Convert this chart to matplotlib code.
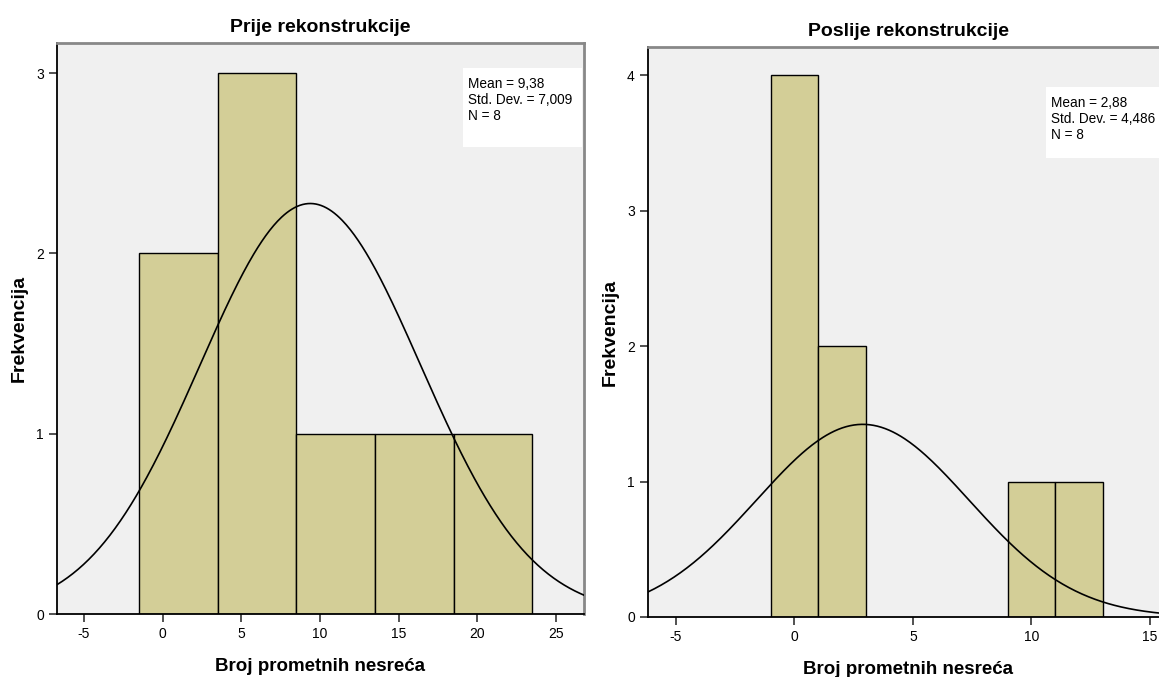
import numpy as np
import matplotlib
matplotlib.use("Agg")
import matplotlib.pyplot as plt
from matplotlib.patches import Rectangle

plt.rcParams['font.family'] = ['Liberation Sans', 'DejaVu Sans']
plt.rcParams['axes.unicode_minus'] = False

W, H = 1159, 677

# histogram data
before_edges = [-1.5, 3.5, 8.5, 13.5, 18.5, 23.5]
before_counts = [2, 3, 1, 1, 1]
before_mean, before_sd, before_n = 9.38, 7.009, 8

after_edges = [-1, 1, 3, 9, 11, 13]
after_counts = [4, 2, 0, 1, 1]
after_mean, after_sd, after_n = 2.88, 4.486, 8

bar_col = '#d3ce97'
bg_col = '#f0f0f0'


def normal_curve(ax, mean, sd, n, width, xlim):
    x = np.linspace(xlim[0], xlim[1], 400)
    y = n * width / (sd * np.sqrt(2 * np.pi)) * np.exp(-0.5 * ((x - mean) / sd) ** 2)
    ax.plot(x, y, color='black', lw=1.2, zorder=3)


def stats_box(fig, x0, y0, x1, y1, txt):
    # box given in picture pixels (top-left origin)
    fig.patches.append(Rectangle((x0 / W, 1 - y1 / H), (x1 - x0) / W, (y1 - y0) / H,
                                 transform=fig.transFigure, facecolor='white',
                                 edgecolor='none', zorder=5))
    fig.text((x0 + 5) / W, 1 - (y0 + 9) / H, txt, fontsize=9.8, va='top', ha='left',
             linespacing=1.2, zorder=6)


def panel(ax, edges, counts, mean, sd, n, width, title, xlim, ylim, xticks, yticks):
    ax.set_facecolor(bg_col)
    for i in range(len(counts)):
        if counts[i] == 0:
            continue
        ax.bar(edges[i], counts[i], width=edges[i + 1] - edges[i], align='edge',
               color=bar_col, edgecolor='black', linewidth=1.0, zorder=2)
    normal_curve(ax, mean, sd, n, width, xlim)
    ax.set_xlim(xlim)
    ax.set_ylim(ylim)
    ax.set_xticks(xticks)
    ax.set_yticks(yticks)
    ax.tick_params(labelsize=10, length=6, width=1.2, colors='#333333', labelcolor='black')
    ax.set_title(title, fontsize=14, fontweight='bold', pad=8)
    ax.set_xlabel('Broj prometnih nesreća', fontsize=13.5, fontweight='bold', labelpad=12)
    ax.set_ylabel('Frekvencija', fontsize=14, fontweight='bold', labelpad=6)
    for s in ['left', 'bottom']:
        ax.spines[s].set_color('black')
        ax.spines[s].set_linewidth(1.3)
    for s in ['top', 'right']:
        ax.spines[s].set_color('#888888')
        ax.spines[s].set_linewidth(2)


fig = plt.figure(figsize=(W / 100, H / 100), dpi=100)
ax1 = fig.add_axes([57 / W, 1 - 614 / H, 527 / W, 571 / H])
ax2 = fig.add_axes([648 / W, 1 - 617 / H, 520 / W, 570 / H])

panel(ax1, before_edges, before_counts, before_mean, before_sd, before_n, 5,
      'Prije rekonstrukcije', (-6.72, 26.78), (0, 3.167),
      [-5, 0, 5, 10, 15, 20, 25], [0, 1, 2, 3])
panel(ax2, after_edges, after_counts, after_mean, after_sd, after_n, 2,
      'Poslije rekonstrukcije', (-6.18, 15.76), (0, 4.21),
      [-5, 0, 5, 10, 15], [0, 1, 2, 3, 4])
ax2.spines['right'].set_visible(False)

stats_box(fig, 463, 68, 582, 147, 'Mean = 9,38\nStd. Dev. = 7,009\nN = 8')
stats_box(fig, 1046, 87, 1159, 158, 'Mean = 2,88\nStd. Dev. = 4,486\nN = 8')

fig.savefig('out.png', dpi=100)
